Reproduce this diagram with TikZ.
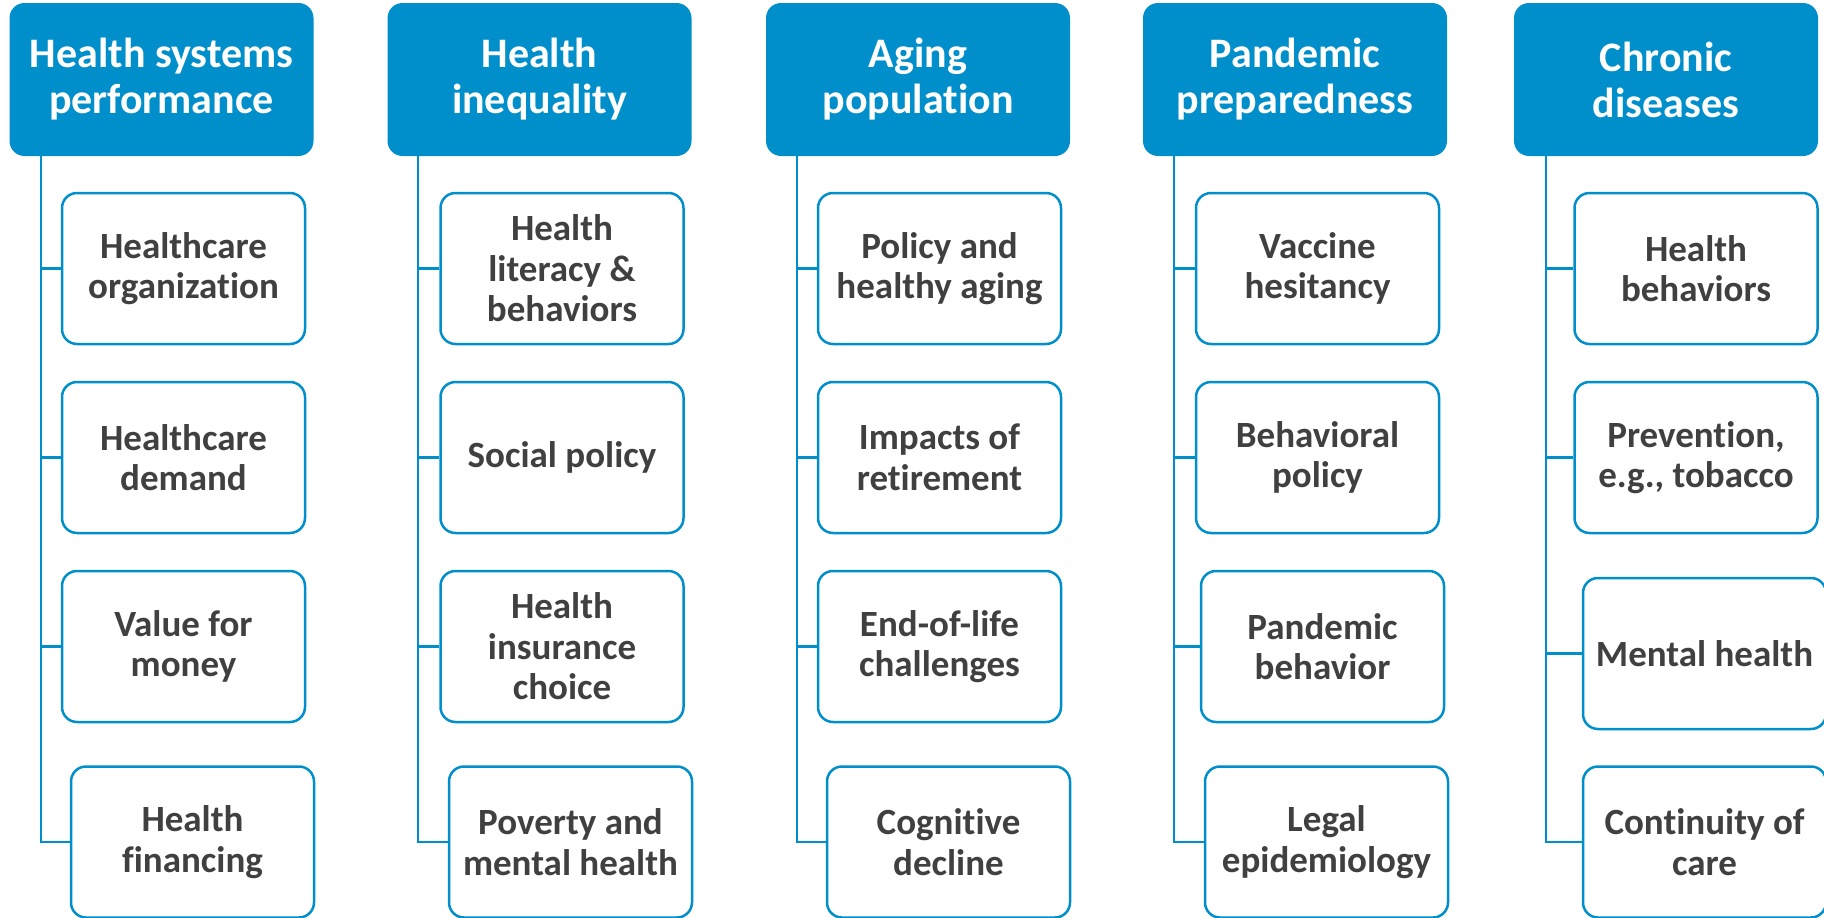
\documentclass[tikz,border=0pt]{standalone}
\usepackage{fontspec}
\setmainfont{Carlito}[Ligatures=NoCommon]
\definecolor{hblue}{RGB}{0,143,202}
\definecolor{tgray}{RGB}{64,64,64}
\begin{document}
\begin{tikzpicture}[x=1pt,y=-1pt,
  header/.style={fill=hblue, draw=none, rounded corners=15pt, minimum width=304pt, minimum height=153pt,
    text=white, font=\bfseries\fontsize{42}{46}\selectfont, align=center, inner sep=0pt},
  item/.style={draw=hblue, line width=2.5pt, fill=white, rounded corners=15pt, minimum width=243pt, minimum height=151pt,
    text=tgray, font=\bfseries\fontsize{37}{40.5}\selectfont, align=center, inner sep=0pt},
  link/.style={draw=hblue, line width=2.2pt}]
\useasboundingbox (0,0) rectangle (1824,918);

% headers
\node[header] (h1) at (161.5,79.5) {Health systems\\performance};
\node[header] (h2) at (539.5,79.5) {Health\\inequality};
\node[header] (h3) at (918,79.5) {Aging\\population};
\node[header] (h4) at (1295,79.5) {Pandemic\\preparedness};
\node[header] (h5) at (1666,79.5) {Chronic\\diseases};

% trunk coordinates
\coordinate (t1) at (41,156);
\coordinate (t2) at (418,156);
\coordinate (t3) at (797,156);
\coordinate (t4) at (1174,156);
\coordinate (t5) at (1546,156);

% column 1
\node[item] (c11) at (183.5,268.5) {Healthcare\\organization};
\node[item] (c12) at (183.5,457.5) {Healthcare\\demand};
\node[item] (c13) at (183.5,646.5) {Value for\\money};
\node[item] (c14) at (192.5,842) {Health\\financing};
% column 2
\node[item] (c21) at (562,268.5) {Health\\literacy \&\\behaviors};
\node[item] (c22) at (562,457.5) {Social policy};
\node[item] (c23) at (562,646.5) {Health\\insurance\\choice};
\node[item] (c24) at (570.5,842) {Poverty and\\mental health};
% column 3
\node[item] (c31) at (939.5,268.5) {Policy and\\healthy aging};
\node[item] (c32) at (939.5,457.5) {Impacts of\\retirement};
\node[item] (c33) at (939.5,646.5) {End-of-life\\challenges};
\node[item] (c34) at (948.5,842) {Cognitive\\decline};
% column 4
\node[item] (c41) at (1317.5,268.5) {Vaccine\\hesitancy};
\node[item] (c42) at (1317.5,457.5) {Behavioral\\policy};
\node[item] (c43) at (1322.5,646.5) {Pandemic\\behavior};
\node[item] (c44) at (1326.5,842) {Legal\\epidemiology};
% column 5
\node[item] (c51) at (1696,268.5) {Health\\behaviors};
\node[item] (c52) at (1696,457.5) {Prevention,\\e.g., tobacco};
\node[item] (c53) at (1704.5,653.5) {Mental health};
\node[item] (c54) at (1704.5,842) {Continuity of\\care};

% connectors
\foreach \c in {1,2,3,4,5}{
  \draw[link] (t\c) |- (c\c4.west);
  \draw[link] (c\c1.west) -- (c\c1.west -| t\c);
  \draw[link] (c\c2.west) -- (c\c2.west -| t\c);
  \draw[link] (c\c3.west) -- (c\c3.west -| t\c);
}
\end{tikzpicture}
\end{document}
